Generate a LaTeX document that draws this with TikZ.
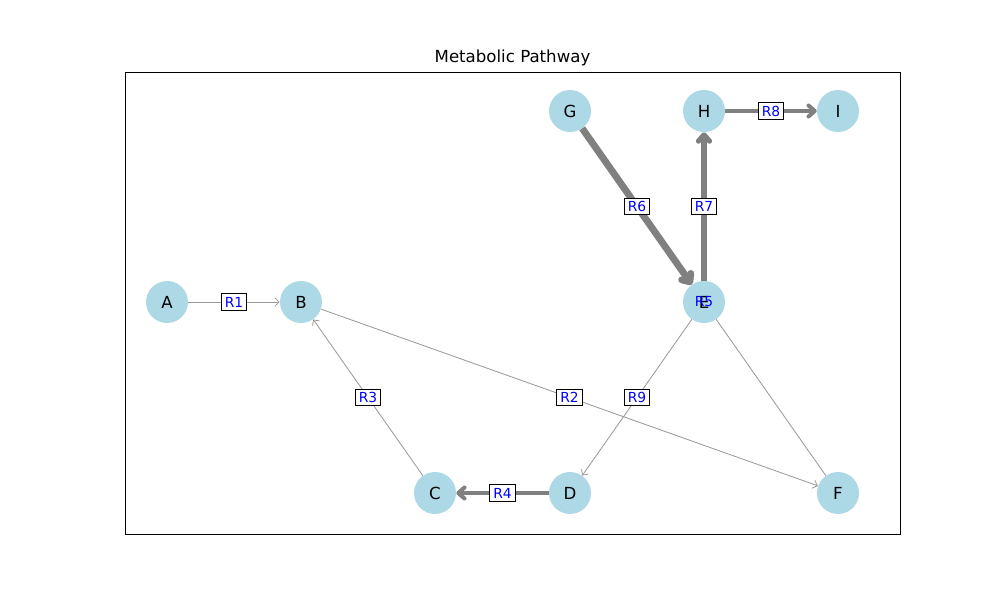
\documentclass[tikz,border=0pt]{standalone}
\usepackage{fontspec}
\setmainfont{DejaVu Sans}
\usetikzlibrary{arrows.meta}
\definecolor{nodeblue}{HTML}{ADD8E6}

\tikzset{
    metab/.style={circle, fill=nodeblue, minimum size=10.67mm, inner sep=0pt, font=\fontsize{12}{14}\selectfont},
    rxn/.style={draw=gray!80, line width=0.6pt, -{Straight Barb[length=3pt, width=6pt]}},
    heavy/.style={draw=gray, line width=#1, -{Straight Barb[length=4.5pt, width=8pt, line join=round, line cap=round]}},
    rlabel/.style={fill=white, draw=black, line width=0.7pt, text=blue, inner xsep=2.6pt, inner ysep=2.2pt, font=\fontsize{10}{12}\selectfont}
}

\begin{document}
\begin{tikzpicture}[x=0.254mm, y=-0.254mm]
    \useasboundingbox (0,0) rectangle (1000,600);
    \draw[line width=0.6pt] (125,72) rectangle (900,534);
    \node[font=\fontsize{12}{14}\selectfont] (title) at (512.5,58) {Metabolic Pathway};

    \node[metab] (A) at (167,302) {A};
    \node[metab] (B) at (301,302) {B};
    \node[metab] (C) at (435,493) {C};
    \node[metab] (D) at (570,493) {D};
    \node[metab] (E) at (704,302) {E};
    \node[metab] (F) at (838,493) {F};
    \node[metab] (G) at (570,111) {G};
    \node[metab] (H) at (704,111) {H};
    \node[metab] (I) at (838,111) {I};

    \draw[rxn] (A) -- node[rlabel] {R1} (B);
    \draw[rxn] (B) -- node[rlabel] {R2} (F);
    \draw[rxn] (C) -- node[rlabel] {R3} (B);
    \draw[heavy=2.9pt] (D) -- node[rlabel] {R4} (C);
    \draw[draw=gray!80, line width=0.6pt] (E) -- (F);
    \draw[heavy=5pt] (G) -- node[rlabel] {R6} (E);
    \draw[heavy=3.8pt] (E) -- node[rlabel] {R7} (H);
    \draw[heavy=2.9pt] (H) -- node[rlabel] {R8} (I);
    \draw[rxn] (E) -- node[rlabel] {R9} (D);
    \node[text=blue, font=\fontsize{10}{12}\selectfont] (r5) at (E) {R5};
\end{tikzpicture}
\end{document}
